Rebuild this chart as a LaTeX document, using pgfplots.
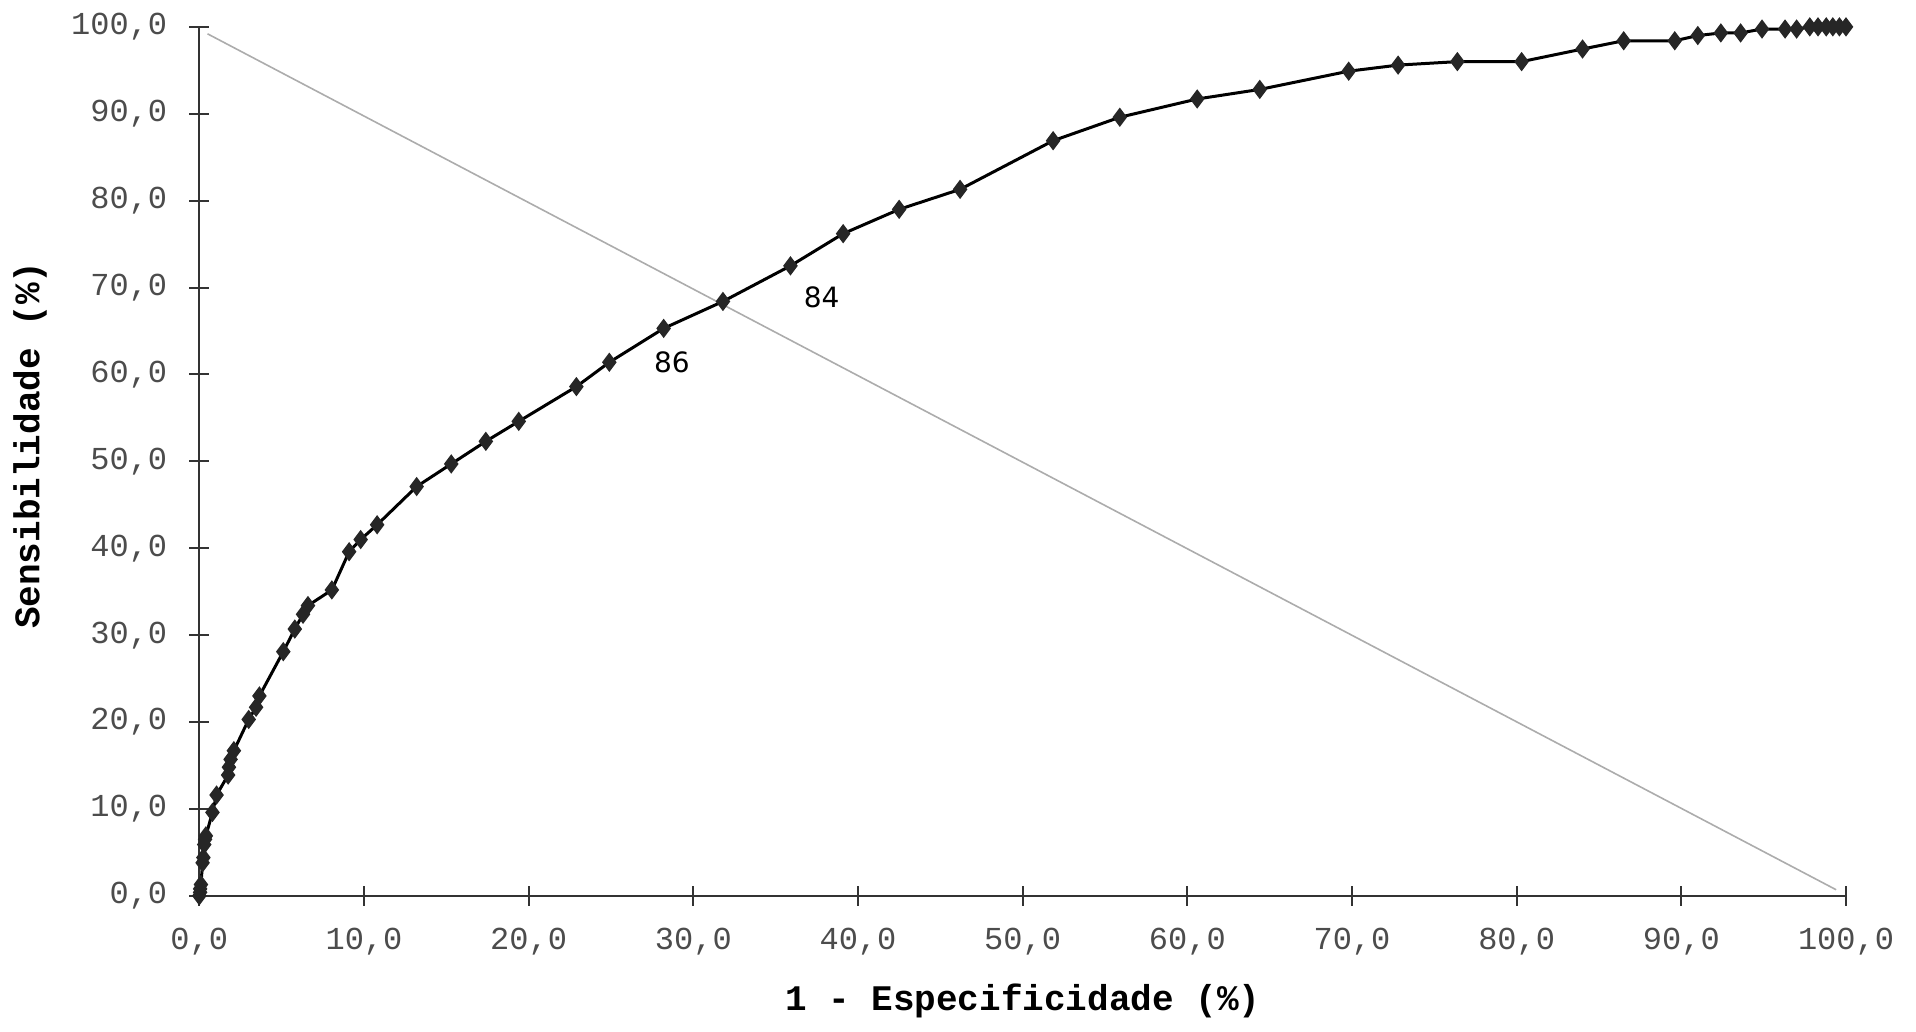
\documentclass[border=0pt]{standalone}
\usepackage{fontspec}
\setmainfont{Liberation Sans}
\setmonofont{Liberation Mono}
\newfontfamily\djv{DejaVu Sans}
\usepackage{pgfplots}
\usepackage{pgfplotstable}
\pgfplotsset{compat=1.18}

\pgfplotstableread{
x y
0 0
0.05 0.4
0.05 0.8
0.1 1.3
0.2 3.8
0.25 4.4
0.3 5.9
0.35 6.5
0.4 6.9
0.8 9.6
1.05 11.6
1.75 13.9
1.8 14.8
1.9 15.7
2.1 16.7
3.0 20.3
3.45 21.7
3.65 23.0
5.1 28.1
5.8 30.7
6.3 32.4
6.6 33.4
8.05 35.2
9.1 39.6
9.8 41.0
10.8 42.7
13.2 47.1
15.3 49.7
17.4 52.3
19.4 54.6
22.9 58.6
24.9 61.4
28.2 65.3
31.8 68.4
35.9 72.5
39.1 76.2
42.5 79.0
46.2 81.3
51.85 86.9
55.9 89.6
60.6 91.7
64.4 92.8
69.8 94.9
72.8 95.6
76.4 96.0
80.3 96.0
84.0 97.45
86.5 98.4
89.6 98.4
91.0 99.0
92.4 99.3
93.6 99.3
94.9 99.75
96.3 99.75
97.0 99.75
97.8 100
98.3 100
98.8 100
99.2 100
99.6 100
100 100
}\roc

\begin{document}
\begin{tikzpicture}
\begin{axis}[
  scale only axis, width=411.7pt, height=217.25pt,
  xmin=0, xmax=100, ymin=0, ymax=100,
  axis lines*=left,
  axis line style={draw=black!80, line width=0.5pt},
  xtick={0,10,...,100}, ytick={0,10,...,100},
  tick align=center, major tick length=5pt,
  tick style={draw=black!80, line width=0.5pt},
  /pgf/number format/fixed,
  /pgf/number format/fixed zerofill,
  /pgf/number format/precision=1,
  /pgf/number format/use comma,
  /pgf/number format/assume math mode=true,
  ticklabel style={font=\ttfamily\fontsize{8}{9}\selectfont, text=black!70},
  xticklabel style={yshift=-2pt},
  yticklabel style={xshift=-2pt},
  xlabel={1 - Especificidade (\%)},
  ylabel={Sensibilidade (\%)},
  label style={font=\ttfamily\bfseries\fontsize{9}{10}\selectfont},
  xlabel style={at={(axis description cs:0.5,0)}, anchor=center, yshift=-26.25pt},
  ylabel style={at={(axis description cs:0,0.5)}, anchor=center, rotate=0, yshift=42.3pt, xshift=4pt},
]
\addplot[gray!65, line width=0.4pt] coordinates {(0.5,99.2) (99.4,0.7)};
\addplot[black, line width=0.75pt, mark=diamond*, mark size=2.1pt,
  mark options={fill=black!85, draw=black!85, line width=0.4pt}] table {\roc};
\node[font=\djv\fontsize{7}{8}\selectfont] at (axis cs:28.7,61.4) {86};
\node[font=\djv\fontsize{7}{8}\selectfont] at (axis cs:37.8,68.85) {84};
\coordinate (bl) at (rel axis cs:0,0);
\coordinate (tr) at (rel axis cs:1,1);
\end{axis}
\path ([xshift=-49.8pt,yshift=-33pt]bl) rectangle ([xshift=17.5pt,yshift=6.5pt]tr);
\end{tikzpicture}
\end{document}
